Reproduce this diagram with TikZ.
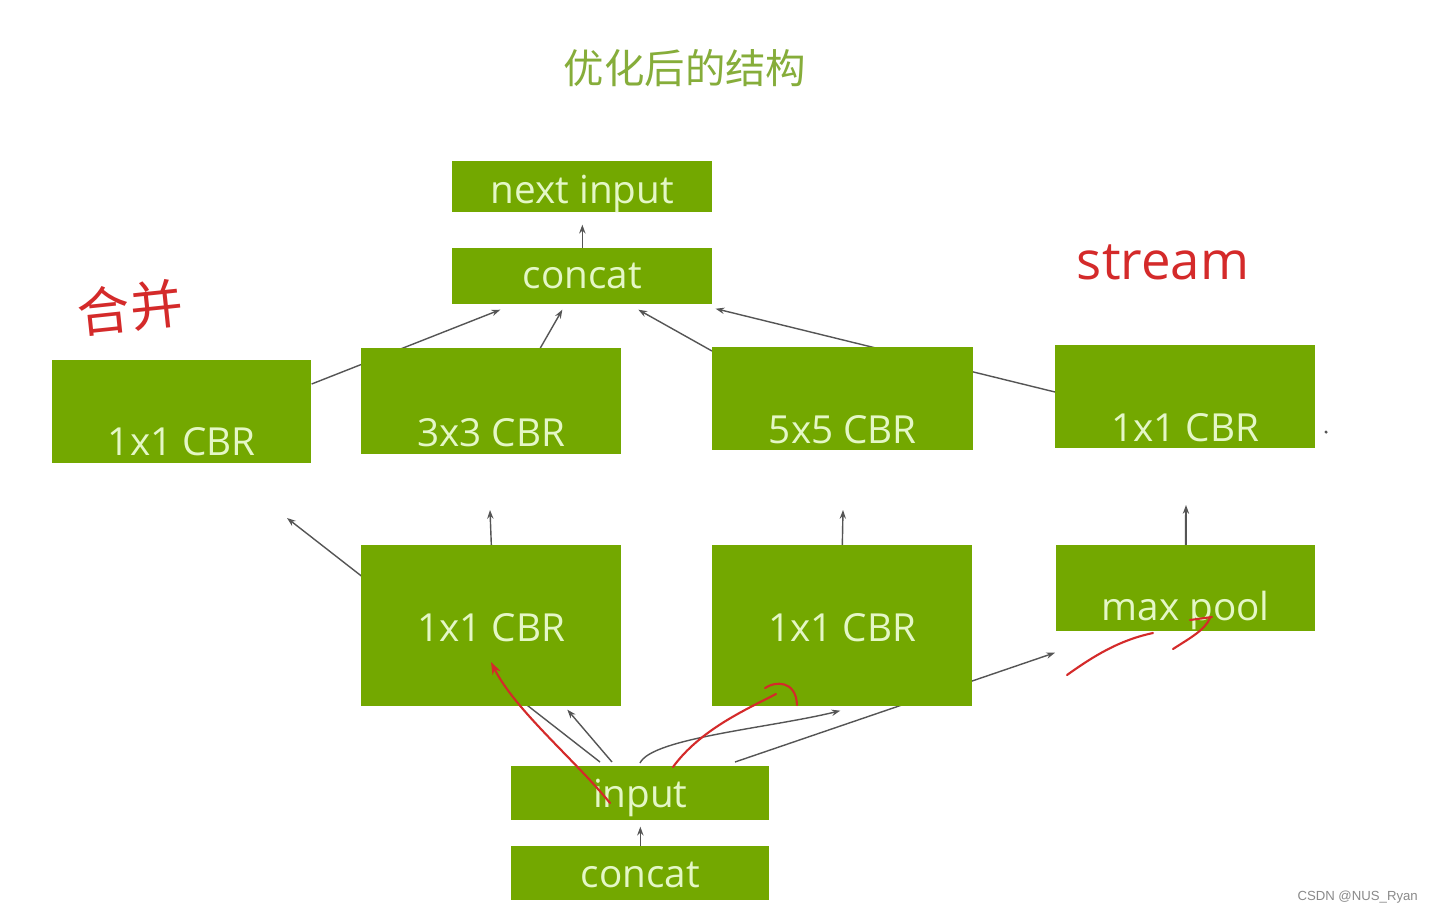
\documentclass[tikz,border=0pt]{standalone}
\usepackage{fontspec}
\setmainfont{Open Sans}
\newfontfamily\cjk{Noto Sans CJK SC}
\newfontfamily\wm{Liberation Sans}
\usetikzlibrary{arrows.meta,backgrounds,calc}
\definecolor{boxgreen}{HTML}{73A800}
\definecolor{boxtext}{HTML}{E4F7C6}
\definecolor{titlegreen}{HTML}{86AD3A}
\definecolor{linegray}{HTML}{555555}
\definecolor{pen}{HTML}{D42A2A}
\definecolor{wmgray}{HTML}{8A8A8A}
\begin{document}
\begin{tikzpicture}[x=0.02cm,y=-0.02cm,
  gbox/.style={fill=boxgreen, draw=none, inner sep=0pt, anchor=north west,
    text=boxtext, font=\fontsize{22}{26}\selectfont},
  link/.style={draw=linegray, line width=0.8pt, -{Stealth[length=5pt,width=3.6pt]}},
  ink/.style={draw=pen, line width=1.2pt, line cap=round, line join=round},
  handtext/.style={text=pen, inner sep=0pt}]

\useasboundingbox (0,0) rectangle (1438,914);

% title
\node[text=titlegreen, font=\cjk\fontsize{23}{28}\selectfont] (title) at (685,68) {优化后的结构};

% boxes
\node[gbox, minimum width=5.2cm, text height=0.84cm, text depth=0.18cm] (nxt) at (452,161) {next input};
\node[gbox, minimum width=5.2cm, text height=0.80cm, text depth=0.32cm] (cat) at (452,248) {concat};
\node[gbox, minimum width=5.18cm, text height=1.90cm, text depth=0.16cm] (c1a) at (52,360) {1x1 CBR};
\node[gbox, minimum width=5.2cm, text height=1.96cm, text depth=0.16cm] (c3) at (361,348) {3x3 CBR};
\node[gbox, minimum width=5.22cm, text height=1.92cm, text depth=0.14cm] (c5) at (712,347) {5x5 CBR};
\node[gbox, minimum width=5.2cm, text height=1.92cm, text depth=0.14cm] (c1d) at (1055,345) {1x1 CBR};
\node[gbox, minimum width=5.2cm, text height=1.92cm, text depth=1.30cm] (r1) at (361,545) {1x1 CBR};
\node[gbox, minimum width=5.2cm, text height=1.92cm, text depth=1.30cm] (r2) at (712,545) {1x1 CBR};
\node[gbox, minimum width=5.18cm, text height=1.50cm, text depth=0.22cm] (mp) at (1056,545) {max pool};
\node[gbox, minimum width=5.16cm, text height=0.82cm, text depth=0.26cm] (inp) at (511,766) {input};
\node[gbox, minimum width=5.16cm, text height=0.82cm, text depth=0.26cm] (cat0) at (511,846) {concat};

% free ends
\coordinate (r1up) at (490,510);
\coordinate (r2up) at (843,510);
\coordinate (mpup) at (1186,505);
\coordinate (c1ain) at (287,518);

\begin{pgfonlayer}{background}
\fill[white] (0,0) rectangle (1438,914);
\draw[link] ($(c1a.north east)+(0,24)$) -- ($(cat.south)+(-82,5)$);
\draw[link] ($(c3.north)+(49,0)$) -- ($(cat.south)+(-20,5)$);
\draw[link] ($(c5.north west)+(0,4)$) -- ($(cat.south)+(56,5)$);
\draw[link] ($(c1d.north west)+(0,47)$) -- ($(cat.south east)+(3,4)$);
\draw[link] (cat.north) -- ($(nxt.south)+(0,12)$);
\draw[link] (r1.north) -- (r1up);
\draw[link] (r2.north) -- (r2up);
\draw[link, line width=1.1pt] (mp.north) -- (mpup);
\draw[link] ($(inp.north west)+(89,-4)$) -- (c1ain);
\draw[link] ($(inp.north west)+(101,-4)$) -- ($(r1.south)+(76,3)$);
\draw[link] ($(inp.north west)+(129,-3)$) .. controls (652,738) and (770,728) .. ($(r2.south)+(-2,4)$);
\draw[link] ($(inp.north west)+(224,-4)$) -- ($(mp.south west)+(-1,21)$);
\draw[link] (cat0.north) -- ($(inp.south)+(0,6)$);
\end{pgfonlayer}

% small dot
\fill[linegray] (1326,432) circle (0.035cm);

% handwritten annotations
\node[handtext, font=\cjk\fontsize{30}{34}\selectfont, rotate=6] (hw1) at (130,308) {合并};
\node[handtext, font=\fontsize{30}{34}\selectfont] (hw2) at (1163,262) {stream};
\draw[ink, -{Stealth[length=7pt,width=5pt]}] (610,803) .. controls (575,760) and (515,710) .. (491,662);
\draw[ink] (673,767) .. controls (700,730) and (745,710) .. (776,694);
\draw[ink] (765,688) .. controls (775,681) and (796,680) .. (797,705);
\draw[ink] (1067,675) .. controls (1095,655) and (1120,640) .. (1153,633);
\draw[ink] (1173,649) .. controls (1190,638) and (1205,630) .. (1210,618);
\draw[ink] (1190,620) -- (1212,617);

% watermark
\node[text=wmgray, font=\wm\fontsize{7.5}{9}\selectfont, anchor=east] (wmk) at (1424,897) {CSDN @NUS\_Ryan};
\end{tikzpicture}
\end{document}
